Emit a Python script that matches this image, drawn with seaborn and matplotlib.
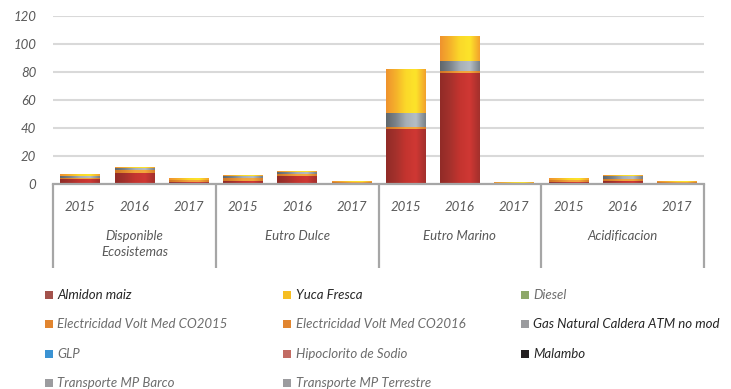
import numpy as np
import pandas as pd
import matplotlib
matplotlib.use("Agg")
import matplotlib.pyplot as plt
import matplotlib.transforms as mtransforms
from matplotlib.colors import LinearSegmentedColormap
from matplotlib.patches import Rectangle
import seaborn as sns

sns.set_theme(style="white")
plt.rcParams["font.family"] = ["Lato", "DejaVu Sans"]

# ---- data -------------------------------------------------------------
groups = ["Disponible\nEcosistemas", "Eutro Dulce", "Eutro Marino", "Acidificacion"]
years = ["2015", "2016", "2017"]

almidon_maiz = [3.5, 8.0, 1.5, 2.5, 5.9, 0.5, 39.0, 79.0, 0.5, 1.5, 2.5, 0.5]
yuca_fresca = [1.2, 1.0, 1.2, 0.4, 0.7, 0.7, 31.0, 18.0, 0.5, 1.2, 0.5, 0.8]
diesel = [0, 0, 0, 0, 0, 0, 0, 0, 0, 0, 0, 0]
elec_2015 = [0.7, 0, 0, 2.0, 0, 0, 2.0, 0, 0, 1.5, 0, 0]
elec_2016 = [0, 2.0, 1.5, 0, 1.2, 0.7, 0, 2.0, 0.5, 0, 1.3, 0.7]
gas_natural = [1.4, 1.4, 0, 1.5, 1.6, 0, 10.0, 7.0, 0, 0, 2.0, 0]
glp = [0, 0, 0, 0, 0, 0, 0, 0, 0, 0, 0, 0]
hipoclorito = [0, 0, 0, 0, 0, 0, 0, 0, 0, 0, 0, 0]
malambo = [0, 0, 0, 0, 0, 0, 0, 0, 0, 0, 0, 0]
transp_barco = [0, 0, 0, 0, 0, 0, 0, 0, 0, 0, 0, 0]
transp_terrestre = [0, 0, 0, 0, 0, 0, 0, 0, 0, 0, 0, 0]

y_ticks = [0, 20, 40, 60, 80, 100, 120]

# legend (row-major as displayed)
legend_names = [
    "Almidon maiz", "Yuca Fresca", "Diesel",
    "Electricidad Volt Med CO2015", "Electricidad Volt Med CO2016", "Gas Natural Caldera ATM no mod",
    "GLP", "Hipoclorito de Sodio", "Malambo",
    "Transporte MP Barco", "Transporte MP Terrestre",
]
legend_colors = [
    "#a3524c", "#f6be22", "#8ea869",
    "#e1852f", "#e1852f", "#9a9b9e",
    "#3b93d3", "#c26b63", "#231f20",
    "#9c9c9f", "#9c9c9f",
]
legend_text_colors = [
    "#262626", "#262626", "#6d6d6d",
    "#6d6d6d", "#6d6d6d", "#262626",
    "#6d6d6d", "#6d6d6d", "#262626",
    "#6d6d6d", "#6d6d6d",
]

# stacking order, bottom to top, with the shading stops of each cylinder
stack = [
    ("Almidon maiz", almidon_maiz, ["#902b27", "#a5312c", "#c4342f", "#cf3834", "#a2302c"]),
    ("Electricidad Volt Med CO2015", elec_2015, ["#cf7426", "#e28a2e", "#f2a33b", "#f4a83d", "#d77e2a"]),
    ("Electricidad Volt Med CO2016", elec_2016, ["#cf7426", "#e28a2e", "#f2a33b", "#f4a83d", "#d77e2a"]),
    ("Gas Natural Caldera ATM no mod", gas_natural, ["#5f666b", "#7b838a", "#a6afb6", "#b5bec5", "#788087"]),
    ("Diesel", diesel, ["#8ea869", "#8ea869"]),
    ("GLP", glp, ["#3b93d3", "#3b93d3"]),
    ("Hipoclorito de Sodio", hipoclorito, ["#c26b63", "#c26b63"]),
    ("Malambo", malambo, ["#231f20", "#231f20"]),
    ("Transporte MP Barco", transp_barco, ["#9c9c9f", "#9c9c9f"]),
    ("Transporte MP Terrestre", transp_terrestre, ["#9c9c9f", "#9c9c9f"]),
    ("Yuca Fresca", yuca_fresca, ["#ef922e", "#f5b22b", "#fbd929", "#fde42a", "#f2a02d"]),
]

bar_ids = [f"{g.split(chr(10))[0]} {y}" for g in groups for y in years]
cum = np.cumsum(np.array([s[1] for s in stack], dtype=float), axis=0)

# ---- figure -----------------------------------------------------------
W, H = 731, 389
fig = plt.figure(figsize=(W / 100, H / 100), dpi=100)
ax_left, ax_right, ax_top, ax_bot = 53, 704, 16, 184
ax = fig.add_axes([ax_left / W, 1 - ax_bot / H, (ax_right - ax_left) / W, (ax_bot - ax_top) / H])

grad = np.linspace(0, 1, 256).reshape(1, -1)
z = 3
for k in range(len(stack) - 1, -1, -1):
    name, _, stops = stack[k]
    df = pd.DataFrame({"bar": bar_ids, "value": cum[k]})
    n_before = len(ax.patches)
    sns.barplot(data=df, x="bar", y="value", order=bar_ids, color=stops[len(stops) // 2],
                saturation=1, width=0.73, linewidth=0, ax=ax, zorder=z)
    cmap = LinearSegmentedColormap.from_list(name, stops)
    for p in ax.patches[n_before:]:
        h = p.get_height()
        if h <= 0:
            continue
        x0 = p.get_x()
        im = ax.imshow(grad, cmap=cmap, extent=[x0, x0 + p.get_width(), 0, h],
                       aspect="auto", interpolation="bicubic", zorder=z + 0.5)
        im.set_clip_path(p)
    z += 1

ax.set_xlim(-0.5, 11.5)
ax.set_ylim(0, 120)
ax.set_yticks(y_ticks)
ax.set_yticklabels([str(t) for t in y_ticks], fontsize=9.5, style="italic", color="#595959")
ax.tick_params(axis="y", length=0, pad=12)
ax.set_xticks([])
ax.set_xlabel("")
ax.set_ylabel("")
ax.yaxis.grid(True, color="#d9d9d9", linewidth=1.5)
ax.set_axisbelow(True)
for s in ["top", "right", "left"]:
    ax.spines[s].set_visible(False)
ax.spines["bottom"].set_color("#a6a6a6")
ax.spines["bottom"].set_linewidth(1.6)
ax.spines["bottom"].set_zorder(50)

# two-level category axis
ph = ax_bot - ax_top
trans = mtransforms.blended_transform_factory(ax.transData, ax.transAxes)
for i in range(len(bar_ids)):
    ax.text(i, (ax_bot - 207) / ph, years[i % 3], transform=trans, ha="center", va="center",
            fontsize=9.5, style="italic", color="#595959")
for gi, g in enumerate(groups):
    ax.text(gi * 3 + 1, (ax_bot - 230) / ph, g, transform=trans, ha="center", va="top",
            fontsize=9.5, style="italic", color="#595959", linespacing=1.45)
for xb in [-0.5, 2.5, 5.5, 8.5, 11.5]:
    ax.plot([xb, xb], [0, (ax_bot - 268) / ph], transform=trans, color="#a6a6a6",
            linewidth=1.6, clip_on=False, zorder=50, solid_capstyle="butt")

# legend laid out in three columns
col_sq = [45, 283, 521]
col_tx = [57, 296, 533]
row_y = [295, 324, 354, 383]
sq = 8
for i, (name, col, tcol) in enumerate(zip(legend_names, legend_colors, legend_text_colors)):
    r, c = divmod(i, 3)
    fig.patches.append(Rectangle((col_sq[c] / W, 1 - (row_y[r] + sq / 2) / H), sq / W, sq / H,
                                 transform=fig.transFigure, facecolor=col, edgecolor="none"))
    fig.text(col_tx[c] / W, 1 - row_y[r] / H, name, ha="left", va="center",
             fontsize=9.5, style="italic", color=tcol)

fig.savefig("out.png", dpi=100, facecolor="white")
